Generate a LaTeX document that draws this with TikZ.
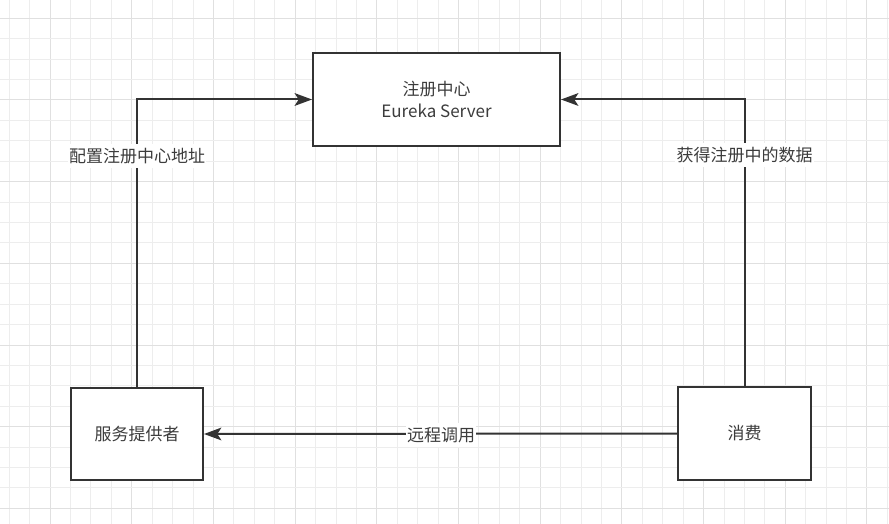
\documentclass[tikz,border=0pt]{standalone}
\usepackage{fontspec}
\setmainfont{Noto Sans CJK SC}
\usetikzlibrary{arrows.meta}
\definecolor{gridminor}{HTML}{EDEDED}
\definecolor{gridmajor}{HTML}{E0E0E0}
\definecolor{ink}{HTML}{333333}
\definecolor{txt}{HTML}{3C3C3C}
\begin{document}
\begin{tikzpicture}[x=0.75pt,y=-0.75pt,
  box/.style={draw=ink,line width=1.5pt,fill=white,rectangle,text=txt,
    font=\fontsize{12.75}{17}\selectfont,align=center,inner sep=0pt},
  arr/.style={draw=ink,line width=1.5pt,-{Stealth[length=13pt,width=9.5pt,inset=3pt]}},
  lbl/.style={fill=white,text=txt,font=\fontsize{12.75}{15}\selectfont,
    inner xsep=1pt,inner ysep=3pt}]
% page and grid
\useasboundingbox (0,0) rectangle (889,524);
\fill[white] (0,0) rectangle (889,524);
\foreach \i in {0,...,43}{
  \pgfmathtruncatemacro{\m}{mod(\i,4)}
  \ifnum\m=2 \def\gc{gridmajor}\else\def\gc{gridminor}\fi
  \draw[\gc,line width=0.75pt] (9.3+20.42*\i,0) -- (9.3+20.42*\i,524);
}
\foreach \j in {0,...,24}{
  \pgfmathtruncatemacro{\m}{mod(\j,4)}
  \ifnum\m=0 \def\gc{gridmajor}\else\def\gc{gridminor}\fi
  \draw[\gc,line width=0.75pt] (0,18.3+20.42*\j) -- (889,18.3+20.42*\j);
}
% boxes
\node[box,minimum width=185.25pt,minimum height=69.75pt] (reg) at (436.5,99.5)
  {注册中心\\Eureka Server};
\node[box,minimum width=99pt,minimum height=69pt] (prov) at (137,434) {服务提供者};
\node[box,minimum width=99.75pt,minimum height=69.4pt] (cons) at (744.5,433.5) {消费};
% connectors
\draw[arr] (prov.north) |- (reg.west);
\draw[arr] (cons.north) |- (reg.east);
\draw[arr] (cons.west) -- (prov.east);
% connector labels
\node[lbl] (l1) at (137,156) {配置注册中心地址};
\node[lbl] (l2) at (744.5,155) {获得注册中的数据};
\node[lbl] (l3) at (441,435) {远程调用};
\end{tikzpicture}
\end{document}
